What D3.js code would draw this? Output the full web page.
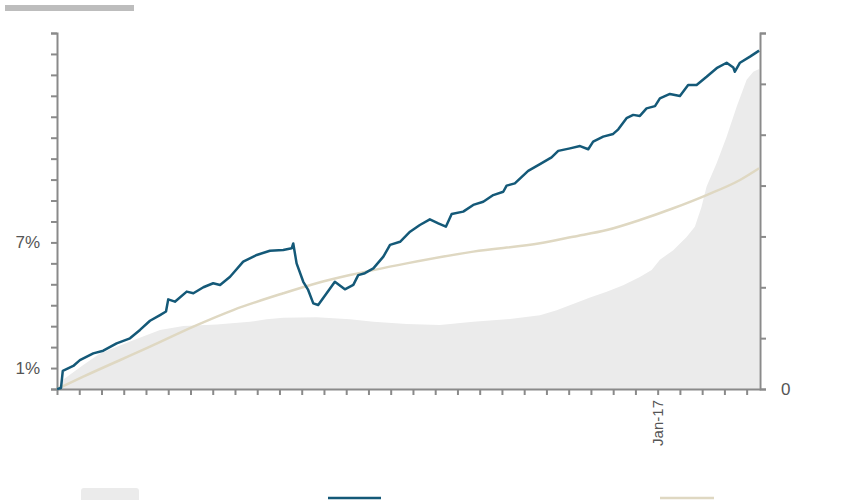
<!DOCTYPE html>
<html>
<head>
<meta charset="utf-8">
<script src="https://cdn.jsdelivr.net/npm/d3@7"></script>
<style>
  body { margin: 0; background: #fff; }
  svg { display: block; font-family: "DejaVu Sans", sans-serif; }
</style>
</head>
<body>
<div id="chart"></div>
<script>
var w = 862;
var h = 500;

// blue line (left axis)
var blueYears = [1990.00, 1990.18, 1990.26, 1990.73, 1991.03, 1991.63, 1992.08, 1992.68, 1993.28, 1993.73,
    1994.18, 1994.63, 1994.90, 1995.00, 1995.30, 1995.83, 1996.13, 1996.58, 1997.02, 1997.33, 1997.78,
    1998.37, 1998.98, 1999.57, 2000.17, 2000.55, 2000.62, 2000.77, 2001.07, 2001.29, 2001.52, 2001.74,
    2002.12, 2002.49, 2002.94, 2003.32, 2003.54, 2003.84, 2004.22, 2004.67, 2004.97, 2005.42,
    2005.87, 2006.31, 2006.76, 2007.14, 2007.48, 2007.74, 2008.26, 2008.71, 2009.16, 2009.61,
    2010.06, 2010.21, 2010.58, 2011.18, 2011.71, 2012.23, 2012.53, 2013.06, 2013.51, 2013.88,
    2014.10, 2014.55, 2015.00, 2015.23, 2015.60, 2015.90, 2016.20, 2016.50, 2016.88, 2017.10,
    2017.55, 2018.00, 2018.37, 2018.75, 2019.20, 2019.65, 2020.10, 2020.40, 2020.47, 2020.70, 2021.15, 2021.56];
var blueValues = [0.00, 0.05, 0.87, 1.10, 1.38, 1.70, 1.83, 2.18, 2.42, 2.82,
    3.26, 3.53, 3.70, 4.28, 4.17, 4.65, 4.57, 4.86, 5.05, 4.97, 5.36,
    6.08, 6.40, 6.60, 6.64, 6.72, 6.95, 6.00, 5.12, 4.73, 4.09, 4.01,
    4.57, 5.12, 4.76, 4.97, 5.44, 5.53, 5.76, 6.32, 6.88, 7.03,
    7.51, 7.83, 8.10, 7.91, 7.75, 8.36, 8.47, 8.79, 8.94, 9.26,
    9.42, 9.71, 9.82, 10.42, 10.74, 11.06, 11.37, 11.49, 11.60, 11.45,
    11.81, 12.05, 12.18, 12.40, 12.93, 13.09, 13.04, 13.40, 13.51, 13.88,
    14.09, 13.99, 14.52, 14.52, 14.91, 15.32, 15.58, 15.35, 15.15, 15.58, 15.87, 16.16];

// beige line (left axis)
var beigeYears = [1990.00, 1991.18, 1994.18, 1996.13, 1997.92, 2000.17, 2001.67, 2003.17, 2005.72,
    2008.71, 2011.71, 2013.20, 2014.71, 2016.20, 2017.70, 2019.20, 2020.70, 2021.56];
var beigeValues = [0.00, 0.59, 2.02, 2.98, 3.77, 4.57, 5.05, 5.44, 6.00,
    6.56, 6.96, 7.27, 7.59, 8.07, 8.63, 9.26, 9.98, 10.54];

// grey area (right axis)
var areaYears = [1990.00, 1990.27, 1991.18, 1991.93, 1993.43, 1994.63, 1995.68, 1997.18, 1998.67, 1999.42,
    2000.17, 2001.67, 2003.17, 2004.22, 2005.72, 2007.21, 2008.71, 2010.21, 2011.71, 2012.46,
    2013.20, 2013.96, 2014.71, 2015.45, 2016.20, 2016.73, 2017.10, 2017.70, 2018.30, 2018.67,
    2018.97, 2019.20, 2019.65, 2020.10, 2020.55, 2021.00, 2021.30, 2021.56];
var areaValues = [0.00, 0.18, 0.47, 0.70, 0.96, 1.16, 1.24, 1.27, 1.32, 1.37,
    1.40, 1.41, 1.37, 1.32, 1.28, 1.26, 1.32, 1.37, 1.45, 1.55,
    1.67, 1.80, 1.91, 2.04, 2.20, 2.34, 2.54, 2.73, 2.99, 3.19,
    3.58, 3.98, 4.44, 4.96, 5.55, 6.08, 6.24, 6.29];

var xTicks = d3.range(1990, 2022);
var leftTicks = d3.range(0, 18);
var rightTicks = d3.range(0, 8);
var leftLabels = { 1: "1%", 7: "7%" };
var rightLabels = { 0: "0" };
var xLabels = { 2017: "Jan-17" };

var axisColor = "#8a8a8a";
var labelColor = "#555";

var svg = d3.select("#chart")
    .append("svg")
    .attr("width", w)
    .attr("height", h);

var x = d3.scaleLinear().domain([1990, 2021.6]).range([57, 760]);
var yLeft = d3.scaleLinear().domain([0, 17]).range([389, 33]);
var yRight = d3.scaleLinear().domain([0, 7]).range([389, 33]);

function zip(xs, ys) {
    return xs.map(function (d, i) { return [d, ys[i]]; });
}

// title placeholder bar
svg.append("rect")
    .attr("x", 5).attr("y", 5)
    .attr("width", 129).attr("height", 6)
    .attr("fill", "#bdbdbd");

// area
var area = d3.area()
    .x(function (d) { return x(d[0]); })
    .y0(yRight(0))
    .y1(function (d) { return yRight(d[1]); });

svg.append("path")
    .datum(zip(areaYears, areaValues))
    .attr("d", area)
    .attr("fill", "#ebebeb");

// axes
function styleAxis(g) {
    g.select(".domain").attr("stroke", axisColor).attr("stroke-width", 2);
    g.selectAll(".tick line").attr("stroke", axisColor).attr("stroke-width", 2);
    g.selectAll(".tick text")
        .attr("fill", labelColor)
        .attr("font-size", "17px");
}

var gx = svg.append("g")
    .attr("transform", "translate(0," + yLeft(0) + ")")
    .call(d3.axisBottom(x)
        .tickValues(xTicks)
        .tickSize(6)
        .tickSizeOuter(0)
        .tickFormat(function (d) { return xLabels[d] || ""; }))
    .call(styleAxis);

gx.selectAll(".tick text")
    .attr("transform", "rotate(-90)")
    .attr("text-anchor", "end")
    .attr("x", -11)
    .attr("y", 0)
    .attr("dy", "0.35em")
    .attr("font-size", "15px");

svg.append("g")
    .attr("transform", "translate(" + x.range()[0] + ",0)")
    .call(d3.axisLeft(yLeft)
        .tickValues(leftTicks)
        .tickSize(6)
        .tickPadding(11)
        .tickFormat(function (d) { return leftLabels[d] || ""; }))
    .call(styleAxis);

svg.append("g")
    .attr("transform", "translate(" + x.range()[1] + ",0)")
    .call(d3.axisRight(yRight)
        .tickValues(rightTicks)
        .tickSize(6)
        .tickPadding(15)
        .tickFormat(function (d) { return rightLabels[d] || ""; }))
    .call(styleAxis);

// lines
var lineLeft = d3.line()
    .x(function (d) { return x(d[0]); })
    .y(function (d) { return yLeft(d[1]); });

svg.append("path")
    .datum(zip(beigeYears, beigeValues))
    .attr("d", lineLeft.curve(d3.curveMonotoneX))
    .attr("fill", "none")
    .attr("stroke", "#dfd8c2")
    .attr("stroke-width", 2.5);

svg.append("path")
    .datum(zip(blueYears, blueValues))
    .attr("d", lineLeft.curve(d3.curveLinear))
    .attr("fill", "none")
    .attr("stroke", "#145978")
    .attr("stroke-width", 2.5)
    .attr("stroke-linejoin", "round");

// legend
svg.append("rect")
    .attr("x", 81).attr("y", 488)
    .attr("width", 58).attr("height", 16)
    .attr("rx", 3)
    .attr("fill", "#ebebeb");

svg.append("line")
    .attr("x1", 328).attr("x2", 381)
    .attr("y1", 498).attr("y2", 498)
    .attr("stroke", "#145978")
    .attr("stroke-width", 2.5);

svg.append("line")
    .attr("x1", 660).attr("x2", 714)
    .attr("y1", 498).attr("y2", 498)
    .attr("stroke", "#dfd8c2")
    .attr("stroke-width", 2.5);
</script>
</body>
</html>
